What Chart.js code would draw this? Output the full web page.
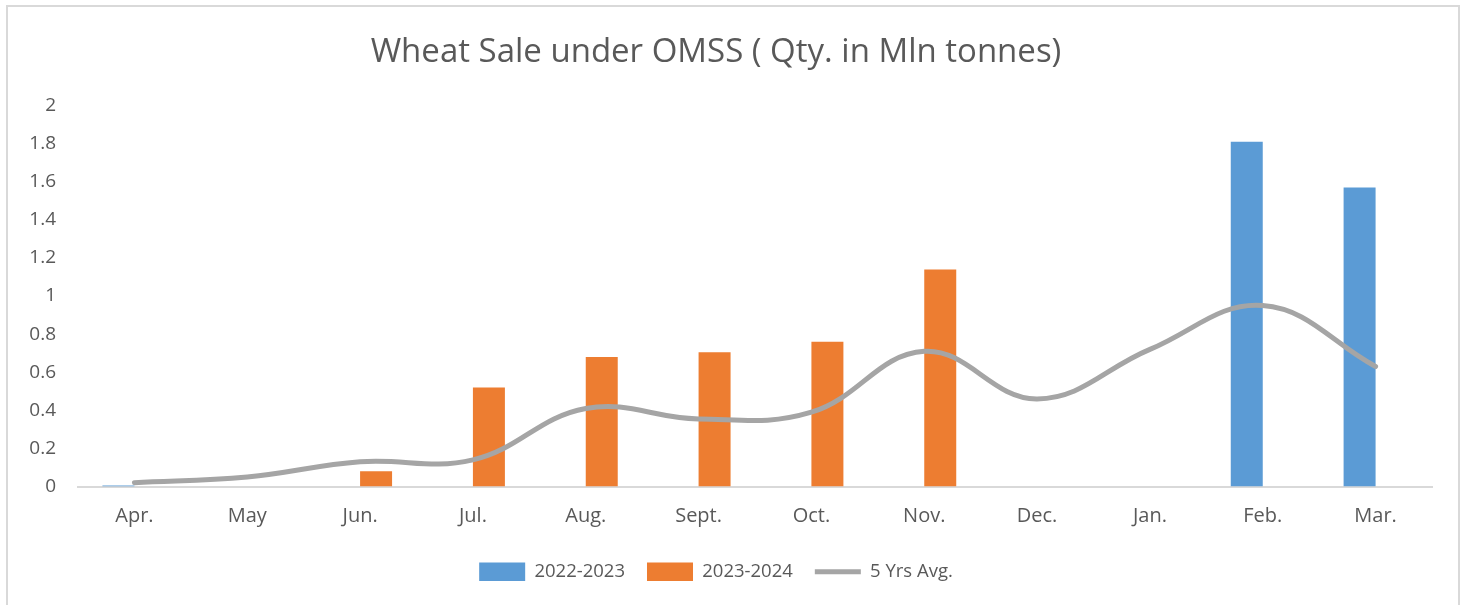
<!DOCTYPE html>
<html>
<head>
<meta charset="utf-8">
<script src="https://cdn.jsdelivr.net/npm/chart.js@4"></script>
<style>
    html, body { margin: 0; padding: 0; background: #fff; }
    #frame {
        position: absolute; left: 6px; top: 5px; width: 1454px; height: 620px;
        border: 2px solid #d9d9d9; box-sizing: border-box;
    }
    #wrap { position: absolute; left: 0; top: 0; width: 1466px; height: 605px; }
</style>
</head>
<body>
<div id="frame"></div>
<div id="wrap"><canvas id="chart"></canvas></div>
<script>
// months of the fiscal year
const months = ['Apr.', 'May', 'Jun.', 'Jul.', 'Aug.', 'Sept.', 'Oct.', 'Nov.', 'Dec.', 'Jan.', 'Feb.', 'Mar.'];
// sales in Mln tonnes
const sales2022 = [0.005, null, null, null, null, null, null, null, null, null, 1.81, 1.57];
const sales2023 = [null, null, 0.08, 0.52, 0.68, 0.705, 0.76, 1.14, null, null, null, null];
const avg5yrs = [0.02, 0.05, 0.13, 0.14, 0.41, 0.355, 0.39, 0.71, 0.46, 0.72, 0.95, 0.63];
const yTicks = [0, 0.2, 0.4, 0.6, 0.8, 1, 1.2, 1.4, 1.6, 1.8, 2];

const FONT = "'Open Sans', sans-serif";
const GREY = '#595959';

document.addEventListener('DOMContentLoaded', function() {
    const ctx = document.getElementById('chart').getContext('2d');
    new Chart(ctx, {
        type: 'bar',
        data: {
            labels: months,
            datasets: [
                {
                    label: '2022-2023',
                    data: sales2022,
                    backgroundColor: '#5b9bd5',
                    pointStyle: 'rect',
                    categoryPercentage: 0.567,
                    barPercentage: 1.0
                },
                {
                    label: '2023-2024',
                    data: sales2023,
                    backgroundColor: '#ed7d31',
                    pointStyle: 'rect',
                    categoryPercentage: 0.567,
                    barPercentage: 1.0
                },
                {
                    type: 'line',
                    label: '5 Yrs Avg.',
                    data: avg5yrs,
                    borderColor: '#a5a5a5',
                    backgroundColor: '#a5a5a5',
                    borderWidth: 5,
                    borderCapStyle: 'round',
                    tension: 0.4,
                    pointRadius: 0,
                    pointStyle: 'line',
                    order: -1
                }
            ]
        },
        options: {
            responsive: true,
            maintainAspectRatio: false,
            animation: false,
            layout: { padding: { left: 0, right: 34, top: 0, bottom: 14 } },
            plugins: {
                tooltip: { enabled: false },
                title: {
                    display: true,
                    text: 'Wheat Sale under OMSS ( Qty. in Mln tonnes)',
                    color: GREY,
                    font: { family: FONT, size: 33, weight: 'normal' },
                    padding: { top: 33, bottom: 33 }
                },
                legend: {
                    position: 'bottom',
                    labels: {
                        color: GREY,
                        font: { family: FONT, size: 18.5 },
                        usePointStyle: true,
                        pointStyleWidth: 46,
                        boxHeight: 20,
                        padding: 22,
                        sort: (a, b) => a.datasetIndex - b.datasetIndex
                    }
                }
            },
            scales: {
                x: {
                    grid: { display: false, drawTicks: false },
                    border: { display: true, color: '#d9d9d9', width: 2 },
                    ticks: {
                        color: GREY,
                        font: { family: FONT, size: 20 },
                        padding: 18,
                        maxRotation: 0
                    },
                    afterFit: function(scale) { scale.height = 54; }
                },
                y: {
                    min: 0,
                    max: 2,
                    grid: { display: false, drawTicks: false },
                    border: { display: false },
                    afterBuildTicks: function(scale) {
                        scale.ticks = yTicks.map(v => ({ value: v }));
                    },
                    ticks: {
                        color: GREY,
                        font: { family: FONT, size: 19 },
                        padding: 22,
                        callback: function(value) { return String(value); }
                    },
                    afterFit: function(scale) { scale.width = 78; }
                }
            }
        }
    });
});
</script>
</body>
</html>
